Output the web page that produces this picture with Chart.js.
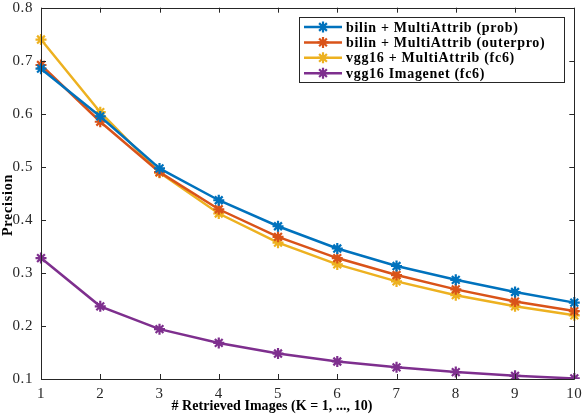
<!DOCTYPE html>
<html>
<head>
<meta charset="utf-8">
<script src="https://cdn.jsdelivr.net/npm/chart.js@4/dist/chart.umd.min.js"></script>
<style>
html,body{margin:0;padding:0;background:#fff;}
#wrap{width:582px;height:416px;position:relative;}
</style>
</head>
<body>
<div id="wrap"><canvas id="c" width="582" height="416"></canvas></div>
<script>
const categories = ['1','2','3','4','5','6','7','8','9','10'];
const seriesNames = ['bilin + MultiAttrib (prob)','bilin + MultiAttrib (outerpro)','vgg16 + MultiAttrib (fc6)','vgg16 Imagenet (fc6)'];
const bilinProb = [0.685,0.595,0.497,0.437,0.388,0.346,0.313,0.287,0.264,0.244];
const bilinOuter = [0.692,0.585,0.490,0.420,0.368,0.328,0.296,0.269,0.246,0.228];
const vggMulti = [0.740,0.603,0.489,0.412,0.357,0.316,0.284,0.258,0.237,0.220];
const vggImagenet = [0.328,0.237,0.194,0.168,0.148,0.133,0.122,0.113,0.106,0.101];
const yTicks = [0.1,0.2,0.3,0.4,0.5,0.6,0.7,0.8];
const colors = ['#0072BD','#D95319','#EDB120','#7E2F8E'];
const xTitle = '# Retrieved Images (K = 1, ..., 10)';
const yTitle = 'Precision';

const axisColor = '#262626';
const serif = '"Liberation Serif","Times New Roman",serif';

function ds(label, data, color){
  return {label, data, borderColor: color, backgroundColor: color, borderWidth: 2.5,
    pointStyle: 'star', pointRadius: 5.5, pointBorderWidth: 2.2, pointHoverRadius: 5.5,
    pointBorderColor: color, pointBackgroundColor: color, tension: 0, fill: false};
}

const spacingPlugin = {
  id: 'spacingPlugin',
  beforeDraw(chart){ chart.ctx.letterSpacing = '0.6px'; }
};

const boxPlugin = {
  id: 'boxPlugin',
  afterDraw(chart){
    const ctx = chart.ctx, a = chart.chartArea;
    const xs = chart.scales.x, ys = chart.scales.y;
    ctx.save();
    ctx.strokeStyle = axisColor; ctx.lineWidth = 1;
    ctx.beginPath();
    ctx.rect(Math.round(a.left)+0.5, Math.round(a.top)+0.5, Math.round(a.right-a.left), Math.round(a.bottom-a.top));
    ctx.stroke();
    const tl = 5;
    ctx.beginPath();
    categories.forEach((c,i)=>{
      const x = Math.round(xs.getPixelForValue(i))+0.5;
      ctx.moveTo(x, a.bottom); ctx.lineTo(x, a.bottom - tl);
      ctx.moveTo(x, a.top); ctx.lineTo(x, a.top + tl);
    });
    yTicks.forEach(v=>{
      const y = Math.round(ys.getPixelForValue(v))+0.5;
      ctx.moveTo(a.left, y); ctx.lineTo(a.left + tl, y);
      ctx.moveTo(a.right, y); ctx.lineTo(a.right - tl, y);
    });
    ctx.stroke();

    // axis titles
    ctx.fillStyle = '#000';
    ctx.letterSpacing = '0.05px';
    ctx.font = 'bold 14px ' + serif;
    ctx.textAlign = 'center'; ctx.textBaseline = 'middle';
    ctx.fillText(xTitle, 272, 406);
    ctx.save();
    ctx.translate(8, 205);
    ctx.rotate(-Math.PI/2);
    ctx.letterSpacing = '0.8px';
    ctx.fillText(yTitle, 0, 0);
    ctx.restore();

    // legend
    const lx = 299, ly = 17, lw = 265, lh = 65;
    ctx.fillStyle = '#fff';
    ctx.fillRect(lx, ly, lw, lh);
    ctx.strokeStyle = axisColor;
    ctx.strokeRect(lx+0.5, ly+0.5, lw, lh);
    ctx.font = 'bold 14px ' + serif;
    ctx.letterSpacing = '0.7px';
    ctx.textAlign = 'left';
    ctx.textBaseline = 'middle';
    seriesNames.forEach((name,i)=>{
      const y = ly + 10 + i*15.4;
      ctx.strokeStyle = colors[i]; ctx.lineWidth = 2.5;
      ctx.beginPath(); ctx.moveTo(lx+5, y); ctx.lineTo(lx+43, y); ctx.stroke();
      ctx.lineWidth = 2.2;
      ctx.fillStyle = colors[i];
      Chart.helpers.drawPoint(ctx, {pointStyle:'star', radius:5.5, borderWidth:2.2}, lx+24, y);
      ctx.fillStyle = '#000';
      ctx.fillText(name, lx+47, y+1);
    });
    ctx.restore();
  }
};

new Chart(document.getElementById('c'), {
  type: 'line',
  data: {
    labels: categories,
    datasets: [
      ds(seriesNames[0], bilinProb, colors[0]),
      ds(seriesNames[1], bilinOuter, colors[1]),
      ds(seriesNames[2], vggMulti, colors[2]),
      ds(seriesNames[3], vggImagenet, colors[3])
    ]
  },
  options: {
    responsive: false,
    animation: false,
    devicePixelRatio: 1,
    layout: {padding: {top: 5, right: 7, left: 0, bottom: 0}},
    plugins: {legend: {display: false}, tooltip: {enabled: false}},
    scales: {
      x: {
        type: 'category',
        offset: false,
        grid: {display: false, drawTicks: false},
        border: {display: false},
        ticks: {color: axisColor, font: {family: serif, size: 15}, padding: 6, maxRotation: 0, autoSkip: false},
        afterFit(s){ s.height = 37; s.paddingLeft = 0; s.paddingRight = 0; }
      },
      y: {
        min: 0.1, max: 0.8,
        afterBuildTicks(s){ s.ticks = yTicks.map(v=>({value:v})); },
        grid: {display: false, drawTicks: false},
        border: {display: false},
        ticks: {color: axisColor, font: {family: serif, size: 15}, padding: 8,
          callback: v => Number(v).toFixed(1)},
        afterFit(s){ s.width = 41; s.paddingTop = 0; s.paddingBottom = 0; }
      }
    }
  },
  plugins: [spacingPlugin, boxPlugin]
});
</script>
</body>
</html>
